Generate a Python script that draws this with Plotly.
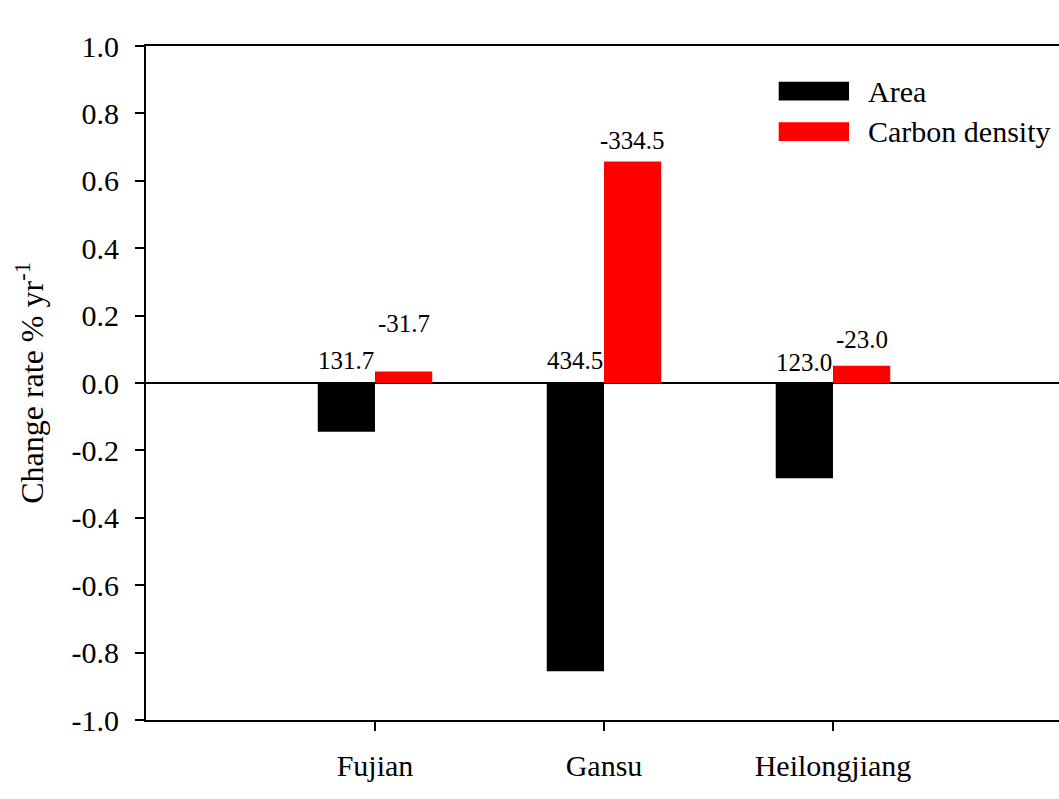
import plotly.graph_objects as go

# Provinces and annual change rates (% per year)
provinces = ["Fujian", "Gansu", "Heilongjiang"]
area_rate = [-0.145, -0.855, -0.283]
density_rate = [0.034, 0.657, 0.051]

# Contribution labels printed above each bar, with their heights on the y scale
area_labels = ["131.7", "434.5", "123.0"]
area_label_y = [0.068, 0.066, 0.060]
density_labels = ["-31.7", "-334.5", "-23.0"]
density_label_y = [0.178, 0.719, 0.130]

y_ticks = [-1.0, -0.8, -0.6, -0.4, -0.2, 0.0, 0.2, 0.4, 0.6, 0.8, 1.0]
y_tick_text = ["-1.0", "-0.8", "-0.6", "-0.4", "-0.2", "0.0", "0.2", "0.4", "0.6", "0.8", "1.0"]

FONT = "Liberation Serif, Times New Roman, serif"
BAR_W = 0.25

fig = go.Figure()
fig.add_trace(go.Bar(x=provinces, y=area_rate, name="Area",
                     marker=dict(color="black", line=dict(width=0)),
                     offsetgroup="a", showlegend=False))
fig.add_trace(go.Bar(x=provinces, y=density_rate, name="Carbon density",
                     marker=dict(color="#ff0000", line=dict(width=0)),
                     offsetgroup="b", showlegend=False))

annotations = []
for i in range(len(provinces)):
    annotations.append(dict(x=i - BAR_W / 2, y=area_label_y[i], xref="x", yref="y",
                            text=area_labels[i], showarrow=False, yanchor="middle",
                            font=dict(family=FONT, size=25, color="black")))
    annotations.append(dict(x=i + BAR_W / 2, y=density_label_y[i], xref="x", yref="y",
                            text=density_labels[i], showarrow=False, yanchor="middle",
                            font=dict(family=FONT, size=25, color="black")))

# Legend drawn as wide swatches with labels
legend_items = [("Area", "black", 0.947, 0.919), ("Carbon density", "#ff0000", 0.887, 0.859)]
shapes = []
for label, color, y_top, y_bot in legend_items:
    shapes.append(dict(type="rect", xref="paper", yref="paper", x0=0.693, x1=0.770,
                       y0=y_bot, y1=y_top, fillcolor=color, line=dict(width=0)))
    annotations.append(dict(x=0.789, y=(y_top + y_bot) / 2, xref="paper", yref="paper",
                            text=label, showarrow=False, xanchor="left", yanchor="middle",
                            font=dict(family=FONT, size=30, color="black")))

fig.update_layout(
    width=1059, height=799,
    margin=dict(l=146, r=0, t=46, b=79),
    paper_bgcolor="white", plot_bgcolor="white",
    barmode="group", bargap=0.5, bargroupgap=0,
    font=dict(family=FONT, size=30, color="black"),
    annotations=annotations, shapes=shapes,
    showlegend=False,
)
fig.update_xaxes(
    range=[-1, 2.987], showgrid=False, zeroline=False,
    showline=True, linecolor="black", linewidth=2, mirror=True,
    ticks="outside", ticklen=9, tickwidth=2, tickcolor="black",
    ticklabelstandoff=9,
    tickfont=dict(family=FONT, size=30, color="black"),
)
fig.update_yaxes(
    range=[-1, 1], tickvals=y_ticks, ticktext=y_tick_text,
    showgrid=False, zeroline=True, zerolinecolor="black", zerolinewidth=1.5,
    showline=True, linecolor="black", linewidth=2,
    ticks="outside", ticklen=9, tickwidth=2, tickcolor="black",
    ticklabelstandoff=10,
    tickfont=dict(family=FONT, size=30, color="black"),
    title=dict(text="Change rate % yr<sup>-1</sup>", standoff=18,
               font=dict(family=FONT, size=32, color="black")),
)

fig.write_html("out.html")
